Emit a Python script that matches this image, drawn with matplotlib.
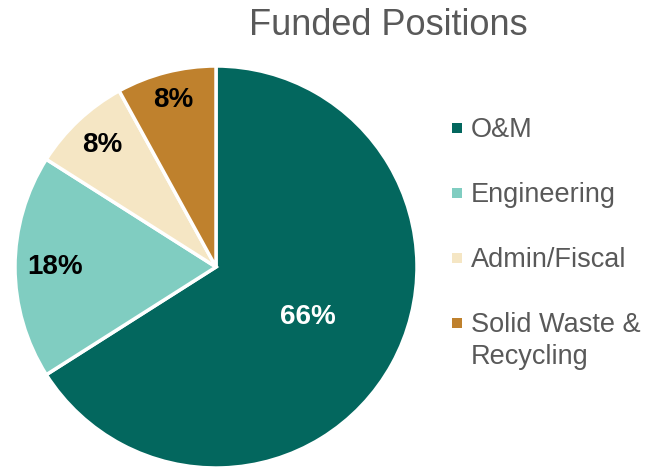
import matplotlib
matplotlib.use("Agg")
import matplotlib.pyplot as plt
from matplotlib.patches import Rectangle
import numpy as np

plt.rcParams['font.family'] = ['Liberation Sans', 'DejaVu Sans']

categories = ["O&M", "Engineering", "Admin/Fiscal", "Solid Waste &\nRecycling"]
values = [66, 18, 8, 8]
pct_labels = ["66%", "18%", "8%", "8%"]
colors = ["#03675E", "#80CDC1", "#F5E6C4", "#BF812D"]
label_colors = ["white", "black", "black", "black"]
label_dist = [0.52, 0.80, 0.83, 0.86]

W, H = 662, 470
fig = plt.figure(figsize=(W / 100, H / 100), dpi=100)

cx, cy, R = 216, 267, 201
ax = fig.add_axes([(cx - R) / W, (H - cy - R) / H, 2 * R / W, 2 * R / H])
wedges, _ = ax.pie(values, colors=colors, startangle=90, counterclock=False,
                   wedgeprops=dict(edgecolor="white", linewidth=2.5))
ax.set_xlim(-1, 1)
ax.set_ylim(-1, 1)
ax.set_aspect("equal")
ax.axis("off")

for w, lab, lc, d in zip(wedges, pct_labels, label_colors, label_dist):
    ang = np.deg2rad((w.theta1 + w.theta2) / 2)
    ax.text(d * np.cos(ang), d * np.sin(ang), lab, ha="center", va="center",
            fontsize=20, fontweight="bold", color=lc)

fig.text(388 / W, 1 - 35 / H, "Funded Positions", ha="center", va="baseline",
         fontsize=26, color="#595959")

# legend
base0, step, line_h = 137, 65, 32
for i, (cat, col) in enumerate(zip(categories, colors)):
    yb = base0 + i * step
    fig.patches.append(Rectangle((452 / W, 1 - (yb - 4) / H), 10 / W, 10 / H,
                                 transform=fig.transFigure, facecolor=col,
                                 edgecolor="none"))
    for j, line in enumerate(cat.split("\n")):
        fig.text(471 / W, 1 - (yb + j * line_h) / H, line, ha="left",
                 va="baseline", fontsize=19.5, color="#595959")

fig.savefig("out.png", dpi=100)
